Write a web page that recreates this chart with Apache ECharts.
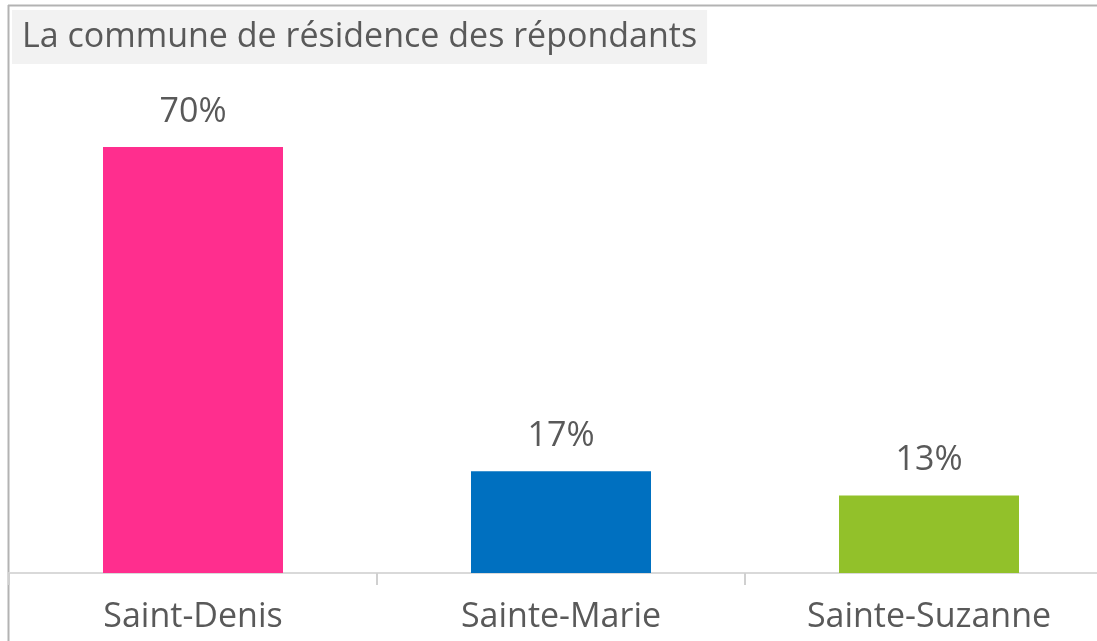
<!DOCTYPE html>
<html>
<head>
<meta charset="utf-8">
<style>
  html, body { margin: 0; padding: 0; background: #fff; overflow: hidden; }
  #chart { width: 1097px; height: 641px; }
</style>
<script src="https://cdn.jsdelivr.net/npm/echarts@6/dist/echarts.min.js"></script>
</head>
<body>
<div id="chart"></div>
<script>
  // données
  const communes = ['Saint-Denis', 'Sainte-Marie', 'Sainte-Suzanne'];
  const parts = [70.4, 16.8, 12.8];
  const couleurs = ['#FF2E8E', '#0070C0', '#92C12A'];

  const font = '"Open Sans", sans-serif';
  const chart = echarts.init(document.getElementById('chart'));
  chart.setOption({
    animation: false,
    title: {
      text: 'La commune de résidence des répondants',
      left: 12,
      top: 10,
      padding: [10, 10],
      backgroundColor: '#f2f2f2',
      textStyle: { fontFamily: font, fontSize: 34, lineHeight: 34, fontWeight: 'normal', color: '#595959' }
    },
    graphic: [
      { type: 'line', shape: { x1: 8, y1: 5.5, x2: 1097, y2: 5.5 }, style: { stroke: '#b3b3b3', lineWidth: 2 }, silent: true },
      { type: 'line', shape: { x1: 8.5, y1: 5, x2: 8.5, y2: 641 }, style: { stroke: '#b3b3b3', lineWidth: 2 }, silent: true }
    ],
    grid: { left: 9, width: 1104, top: 89, bottom: 68, outerBoundsMode: 'none', containLabel: false },
    xAxis: {
      type: 'category',
      data: communes,
      axisLine: { show: true, lineStyle: { color: '#d9d9d9', width: 2 } },
      axisTick: { show: true, alignWithLabel: false, length: 12, lineStyle: { color: '#d0d0d0', width: 2 } },
      axisLabel: { margin: 27, fontFamily: font, fontSize: 34, color: '#595959' }
    },
    yAxis: {
      type: 'value',
      min: 0,
      max: 80,
      show: false
    },
    series: [{
      type: 'bar',
      barWidth: 180,
      data: parts.map((v, i) => ({ value: v, itemStyle: { color: couleurs[i] } })),
      label: {
        show: true,
        position: 'top',
        distance: 18,
        fontFamily: font,
        fontSize: 34,
        color: '#595959',
        formatter: p => Math.round(p.value) + '%'
      }
    }]
  });
</script>
</body>
</html>
